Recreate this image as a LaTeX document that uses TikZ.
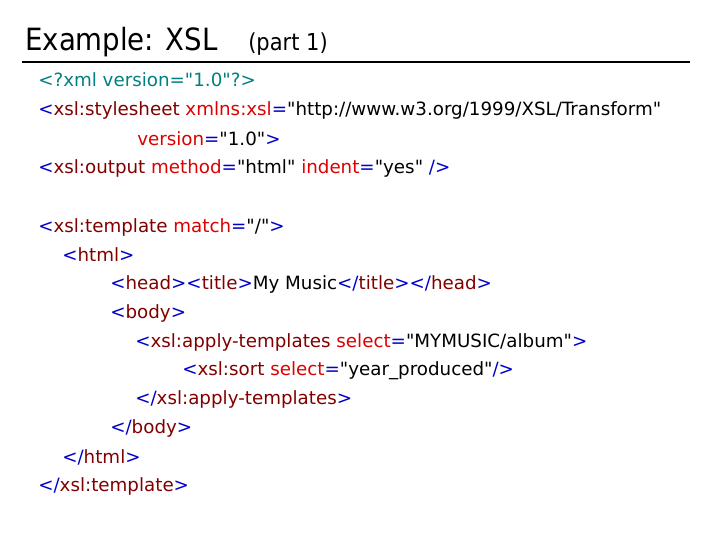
\documentclass[tikz,border=0pt]{standalone}
\usepackage{fontspec}
\setmainfont[Ligatures=TeXOff]{DejaVu Sans}
\newfontfamily\titlefont{DejaVu Sans Condensed}
\definecolor{tl}{RGB}{0,128,128}
\definecolor{bl}{RGB}{0,0,200}
\definecolor{mr}{RGB}{128,0,0}
\definecolor{rd}{RGB}{220,0,0}
\newcommand\LT{\textcolor{bl}{<}}
\newcommand\GT{\textcolor{bl}{>}}
\newcommand\EL[1]{\textcolor{mr}{#1}}
\newcommand\AT[1]{\textcolor{rd}{#1}\textcolor{bl}{=}}
\begin{document}
\begin{tikzpicture}[x=0.75pt,y=-0.75pt,code/.style={anchor=west,inner sep=0pt,font=\fontsize{13.7}{16}\selectfont}]
\useasboundingbox (0,0) rectangle (720,540);
\node[anchor=west,inner sep=0pt,font=\titlefont\fontsize{23}{27}\selectfont] (t1) at (25,42) {Example: XSL};
\node[anchor=west,inner sep=0pt,font=\titlefont\fontsize{17.5}{21}\selectfont] (t2) at (248,44) {(part 1)};
\draw[line width=0.8pt] (22,62) -- (690,62);
\node[code] (l1) at (38,80) {\textcolor{tl}{<?xml version="1.0"?>}};
\node[code] (l2) at (38,110) {\LT\EL{xsl:stylesheet} \AT{xmlns:xsl}"http://www.w3.org/1999/XSL/Transform"};
\node[code] (l3) at (137,139) {\AT{version}"1.0"\GT};
\node[code] (l4) at (38,168) {\LT\EL{xsl:output} \AT{method}"html" \AT{indent}"yes" \textcolor{bl}{/>}};
\node[code] (l5) at (38,227) {\LT\EL{xsl:template} \AT{match}"/"\GT};
\node[code] (l6) at (62,255) {\LT\EL{html}\GT};
\node[code] (l7) at (110,284) {\LT\EL{head}\GT\LT\EL{title}\GT My Music\LT\textcolor{bl}{/}\EL{title}\GT\LT\textcolor{bl}{/}\EL{head}\GT};
\node[code] (l8) at (110,313) {\LT\EL{body}\GT};
\node[code] (l9) at (135,342) {\LT\EL{xsl:apply-templates} \AT{select}"MYMUSIC/album"\GT};
\node[code] (l10) at (182,371) {\LT\EL{xsl:sort} \AT{select}"year\_produced"\textcolor{bl}{/>}};
\node[code] (l11) at (135,399) {\LT\textcolor{bl}{/}\EL{xsl:apply-templates}\GT};
\node[code] (l12) at (110,428) {\LT\textcolor{bl}{/}\EL{body}\GT};
\node[code] (l13) at (62,457) {\LT\textcolor{bl}{/}\EL{html}\GT};
\node[code] (l14) at (38,486) {\LT\textcolor{bl}{/}\EL{xsl:template}\GT};
\end{tikzpicture}
\end{document}
